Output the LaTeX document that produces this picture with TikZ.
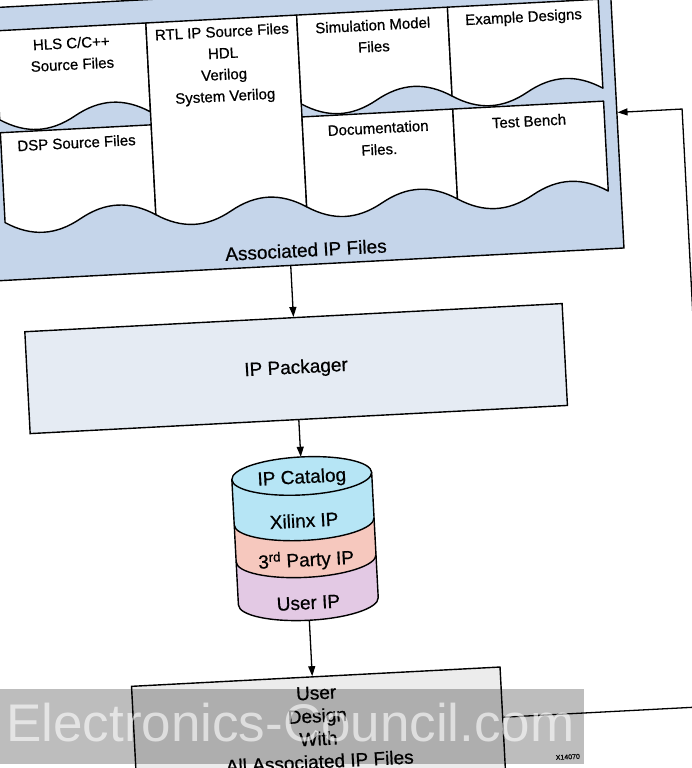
\documentclass[tikz,border=0pt]{standalone}
\usepackage{fontspec}
\setmainfont{Liberation Sans}[FakeBold=0.6]
\newfontfamily\wmfont{Liberation Sans}
\usetikzlibrary{arrows.meta,calc}
\definecolor{panelblue}{RGB}{197,213,234}
\definecolor{packfill}{RGB}{229,235,243}
\definecolor{userfill}{RGB}{236,236,236}
\definecolor{cylcyan}{RGB}{182,229,245}
\definecolor{cylsalmon}{RGB}{246,200,190}
\definecolor{cylpurple}{RGB}{227,201,228}
\newcommand{\fdoc}{\fontsize{15}{21.5}\selectfont}
\newcommand{\fbig}{\fontsize{19}{23}\selectfont}
\newcommand{\DocShape}[4]{%
  \draw[docbox] (#1,-#3) -- (#2,-#3) -- (#2,-#4)
  .. controls ({#2-0.17*(#2-#1)},{-#4+15.5}) and ({#2-0.33*(#2-#1)},{-#4+15.5}) .. ({(#1+#2)/2},-#4)
  .. controls ({#1+0.33*(#2-#1)},{-#4-15.5}) and ({#1+0.17*(#2-#1)},{-#4-15.5}) .. (#1,-#4) -- cycle;}
\tikzset{
  thick line/.style={draw=black, line width=1.4pt},
  docbox/.style={draw=black, fill=white, line width=1.4pt, line join=round},
  arr/.style={draw=black, line width=1.3pt, -{Triangle[length=10pt,width=7pt]}},
  doctext/.style={align=center, font=\fdoc, inner sep=0pt},
  bigtext/.style={align=center, font=\fbig, inner sep=0pt},
  cylarc/.style={x radius=70pt, y radius=19pt},
}
\begin{document}
\begin{tikzpicture}[x=1pt,y=1pt]
\useasboundingbox (0,0) rectangle (692,-768);
\fill[white] (0,0) rectangle (692,-768);
\begin{scope}[rotate around={3:(346,-384)}, transform shape]
  % panel of associated files
  \node[thick line, fill=panelblue, minimum width=630pt, minimum height=273pt,
        inner sep=0pt, anchor=north west] (panel) at (0,11) {};
  \DocShape{14}{165}{13}{102}
  \DocShape{14}{165}{115}{205}
  \DocShape{165}{316}{13}{205}
  \DocShape{316}{467}{13}{102}
  \DocShape{467}{618}{13}{102}
  \DocShape{316}{467}{115}{205}
  \DocShape{467}{618}{115}{205}
  \node[doctext] (hls) at (89.5,-39.75) {HLS C/C++\\Source Files};
  \node[doctext] (dsp) at (89.5,-129) {DSP Source Files};
  \node[doctext] (rtl) at (240.5,-59.25) {RTL IP Source Files\\HDL\\Verilog\\System Verilog};
  \node[doctext] (sim) at (391.5,-37.75) {Simulation Model\\Files};
  \node[doctext] (ex) at (542.5,-28) {Example Designs};
  \node[doctext] (docu) at (391.5,-140.75) {Documentation\\Files.};
  \node[doctext] (tb) at (542.5,-131) {Test Bench};
  \node[bigtext] (assoc) at (313,-248) {Associated IP Files};

  % IP packager
  \node[thick line, fill=packfill, minimum width=538pt, minimum height=102pt,
        inner sep=0pt, font=\fbig] (pack) at (297,-366) {IP Packager};

  % IP catalog cylinder
  \fill[cylpurple] (227,-556) -- (227,-599) arc[start angle=180,end angle=360,cylarc]
        -- (367,-556) arc[start angle=0,end angle=-180,cylarc] -- cycle;
  \fill[cylsalmon] (227,-519) -- (227,-556) arc[start angle=180,end angle=360,cylarc]
        -- (367,-519) arc[start angle=0,end angle=-180,cylarc] -- cycle;
  \fill[cylcyan] (227,-473.5) -- (227,-519) arc[start angle=180,end angle=360,cylarc]
        -- (367,-473.5) arc[start angle=0,end angle=180,cylarc] -- cycle;
  \draw[thick line] (227,-473.5) -- (227,-599) arc[start angle=180,end angle=360,cylarc] -- (367,-473.5);
  \draw[thick line] (227,-519) arc[start angle=180,end angle=360,cylarc];
  \draw[thick line] (227,-556) arc[start angle=180,end angle=360,cylarc];
  \draw[thick line, fill=cylcyan] (297,-473.5) ellipse[cylarc];
  \node[minimum width=140pt, minimum height=163.5pt, inner sep=0pt] (cyl) at (297,-536.25) {};
  \node[bigtext] (cat) at (297,-476) {IP Catalog};
  \node[bigtext] (xil) at (297,-518) {Xilinx IP};
  \node[bigtext] (third) at (297,-558) {3\textsuperscript{rd} Party IP};
  \node[bigtext] (uip) at (297,-600.5) {User IP};

  % user design
  \node[thick line, fill=userfill, minimum width=369pt, minimum height=126pt,
        inner sep=0pt, anchor=north] (user) at (300.5,-674) {};
  \node[bigtext] (usertext) at (300,-725.5) {User\\Design\\With\\All Associated IP Files};
  \node[font=\fontsize{7}{8}\selectfont, inner sep=0pt] (fig) at (548,-768) {X14070};

  % connectors
  \draw[arr] ($(panel.south west)!(pack.north)!(panel.south east)$) -- (pack.north);
  \draw[arr] (pack.south) -- (cyl.north);
  \draw[arr] (cyl.south) -- ($(user.north west)!(cyl.south)!(user.north east)$);
  \coordinate (fbturn) at (696,-725);
  \coordinate (fbtop) at (696,-127);
  \draw[arr] ($(user.north east)!(fbturn)!(user.south east)$) -- (fbturn) -- (fbtop)
        -- ($(panel.north east)!(fbtop)!(panel.south east)$);
\end{scope}
% watermark band
\fill[black, opacity=0.26] (0,-689) rectangle (584,-764);
\node[anchor=base west, inner sep=0pt, text=white, text opacity=0.6,
      font=\wmfont\fontsize{53}{60}\selectfont] (wm) at (6,-741) {Electronics-Council.com};
\end{tikzpicture}
\end{document}
